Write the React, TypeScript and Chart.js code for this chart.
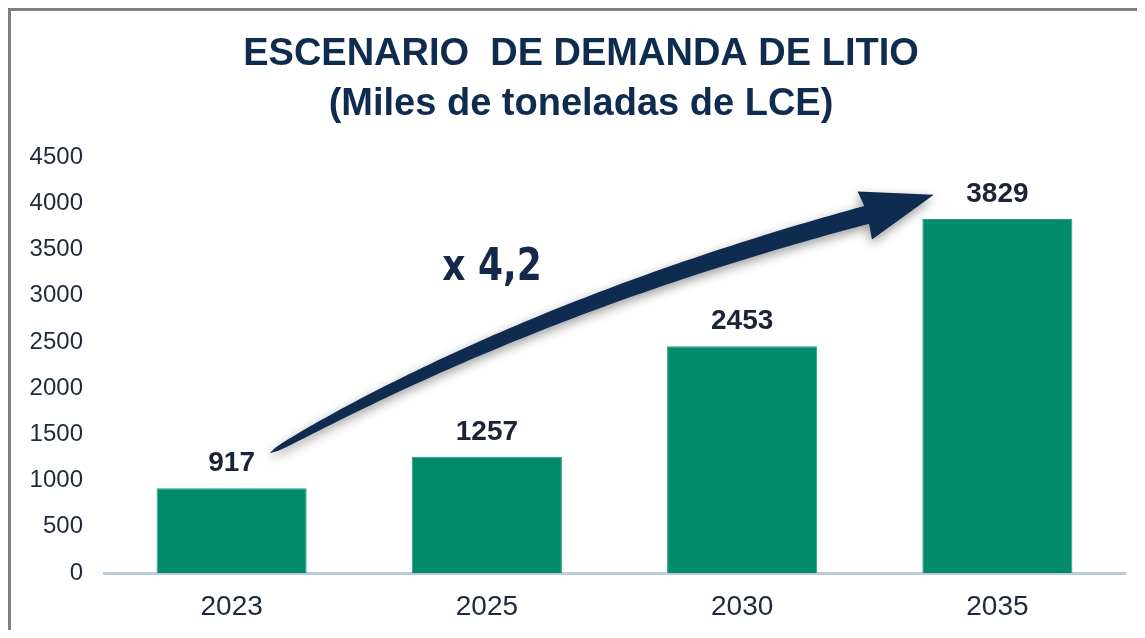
import React, { useEffect, useRef } from "react";
import { Chart, registerables } from "chart.js";

Chart.register(...registerables);

const categories = ["2023", "2025", "2030", "2035"];
const demand = [917, 1257, 2453, 3829];
const yMin = 0;
const yMax = 4500;
const yStep = 500;
const titleLines = ["ESCENARIO  DE DEMANDA DE LITIO", "(Miles de toneladas de LCE)"];
const growthLabel = "x 4,2";
// annotation anchors in [category index, value] units
const arrowTail = [0.151, 1299];
const arrowControl = [1.163, 2890];
const arrowShaftEnd = [2.488, 3874];
const arrowTip = [2.751, 4091];
const growthLabelAnchor = [1.02, 3171];

const NAVY = "#0f2b50";
const TEXT = "#1e2a3b";
const BAR = "#028a6c";

const overlayPlugin = {
  id: "overlay",
  afterDatasetsDraw(chart: any) {
    const { ctx, scales } = chart;
    const xs = scales.x;
    const ys = scales.y;
    const px = (p: number[]) => ({ x: xs.getPixelForValue(p[0]), y: ys.getPixelForValue(p[1]) });

    // data labels
    const meta = chart.getDatasetMeta(0);
    ctx.save();
    ctx.fillStyle = "#1a2436";
    ctx.font = "bold 28px 'Liberation Sans', Arial, sans-serif";
    ctx.textAlign = "center";
    ctx.textBaseline = "alphabetic";
    meta.data.forEach((el: any, i: number) => {
      ctx.fillText(String(demand[i]), el.x, el.y - 17);
    });
    ctx.restore();

    // curved arrow
    const p0 = px(arrowTail);
    const p1 = px(arrowControl);
    const p2 = px(arrowShaftEnd);
    const tip = px(arrowTip);
    const bez = (t: number) => ({
      x: (1 - t) * (1 - t) * p0.x + 2 * t * (1 - t) * p1.x + t * t * p2.x,
      y: (1 - t) * (1 - t) * p0.y + 2 * t * (1 - t) * p1.y + t * t * p2.y,
    });
    const der = (t: number) => {
      const dx = 2 * (1 - t) * (p1.x - p0.x) + 2 * t * (p2.x - p1.x);
      const dy = 2 * (1 - t) * (p1.y - p0.y) + 2 * t * (p2.y - p1.y);
      const l = Math.hypot(dx, dy) || 1;
      return { x: dx / l, y: dy / l };
    };
    const N = 80;
    const maxW = 18;
    const left: any[] = [];
    const right: any[] = [];
    for (let i = 0; i <= N; i++) {
      const t = i / N;
      const p = bez(t);
      const d = der(t);
      const n = { x: -d.y, y: d.x };
      const w = (maxW * Math.pow(t, 0.35)) / 2 + 0.2;
      left.push({ x: p.x + n.x * w, y: p.y + n.y * w });
      right.push({ x: p.x - n.x * w, y: p.y - n.y * w });
    }
    const hx = tip.x - p2.x;
    const hy = tip.y - p2.y;
    const hl = Math.hypot(hx, hy) || 1;
    const hd = { x: hx / hl, y: hy / hl };
    const hn = { x: -hd.y, y: hd.x };
    const headHalf = 25;
    const back = 2;
    const b1 = { x: p2.x + hn.x * headHalf - hd.x * back, y: p2.y + hn.y * headHalf - hd.y * back };
    const b2 = { x: p2.x - hn.x * headHalf - hd.x * back, y: p2.y - hn.y * headHalf - hd.y * back };

    ctx.save();
    ctx.shadowColor = "rgba(0,0,0,0.4)";
    ctx.shadowBlur = 11;
    ctx.shadowOffsetX = -1;
    ctx.shadowOffsetY = 4;
    ctx.fillStyle = NAVY;
    ctx.beginPath();
    ctx.moveTo(left[0].x, left[0].y);
    for (let i = 1; i <= N; i++) ctx.lineTo(left[i].x, left[i].y);
    ctx.lineTo(b1.x, b1.y);
    ctx.lineTo(tip.x, tip.y);
    ctx.lineTo(b2.x, b2.y);
    for (let i = N; i >= 0; i--) ctx.lineTo(right[i].x, right[i].y);
    ctx.closePath();
    ctx.fill();
    ctx.restore();

    // growth label
    const g = px(growthLabelAnchor);
    ctx.save();
    ctx.fillStyle = "#14294a";
    ctx.font = "bold 45px 'DejaVu Sans', sans-serif";
    ctx.textAlign = "center";
    ctx.textBaseline = "alphabetic";
    ctx.translate(g.x, g.y);
    ctx.scale(0.8, 1);
    ctx.fillText(growthLabel, 0, 0);
    ctx.restore();

    // titles
    ctx.save();
    ctx.fillStyle = NAVY;
    ctx.textAlign = "center";
    ctx.textBaseline = "alphabetic";
    ctx.font = "bold 38px 'Liberation Sans', Arial, sans-serif";
    ctx.fillText(titleLines[0], chart.width / 2 + 3, 54);
    ctx.fillText(titleLines[1], chart.width / 2 + 3, 104);
    ctx.restore();
  },
};

export default function App() {
  const ref = useRef<HTMLCanvasElement | null>(null);
  useEffect(() => {
    if (!ref.current) return;
    const chart = new Chart(ref.current, {
      type: "bar",
      data: {
        labels: categories,
        datasets: [
          {
            data: demand,
            backgroundColor: BAR,
            borderColor: "#2a9c80",
            borderWidth: 1,
            barPercentage: 0.588,
            categoryPercentage: 1,
          },
        ],
      },
      options: {
        responsive: false,
        animation: false,
        layout: { padding: { top: 146, right: 20, left: 0, bottom: 0 } },
        plugins: { legend: { display: false }, tooltip: { enabled: false }, title: { display: false } },
        scales: {
          x: {
            grid: { display: false, drawTicks: false },
            border: { display: true, color: "#b9cadb", width: 3 },
            ticks: {
              color: TEXT,
              padding: 17,
              font: { size: 28, family: "'Liberation Sans', Arial, sans-serif" },
            },
            afterFit(scale: any) {
              scale.height = 57;
            },
          },
          y: {
            min: yMin,
            max: yMax,
            grid: { display: false, drawTicks: false },
            border: { display: false },
            ticks: {
              stepSize: yStep,
              color: TEXT,
              padding: 21,
              font: { size: 24, family: "'Liberation Sans', Arial, sans-serif" },
              callback: (v: any) => String(v),
            },
            afterFit(scale: any) {
              scale.width = 93;
            },
          },
        },
      },
      plugins: [overlayPlugin],
    });
    return () => chart.destroy();
  }, []);
  return (
    <div
      style={{
        width: 1134,
        height: 619,
        borderTop: "3px solid #808080",
        borderLeft: "3px solid #808080",
        background: "#fff",
      }}
    >
      <canvas ref={ref} width={1134} height={619} style={{ display: "block" }} />
    </div>
  );
}
